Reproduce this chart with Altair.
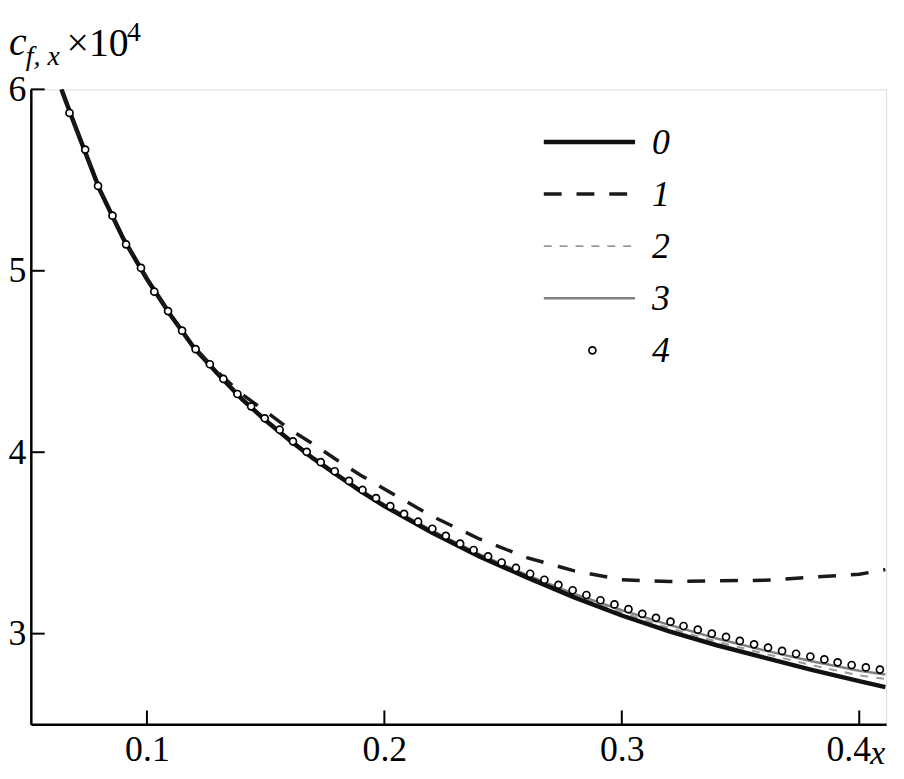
import altair as alt
import pandas as pd

# ---------------- data ----------------
x_curve = [0.064, 0.07, 0.08, 0.09, 0.10, 0.11, 0.12, 0.13, 0.14, 0.15, 0.16, 0.17, 0.18,
           0.19, 0.20, 0.22, 0.24, 0.26, 0.28, 0.30, 0.32, 0.34, 0.36, 0.38, 0.40, 0.411]
y_curve0 = [6.0, 5.79, 5.45, 5.178, 4.955, 4.755, 4.573, 4.43, 4.293, 4.175, 4.068, 3.966, 3.875,
            3.786, 3.703, 3.558, 3.426, 3.31, 3.200, 3.10, 3.012, 2.936, 2.868, 2.80, 2.738, 2.705]
y_curve1 = [6.0, 5.79, 5.451, 5.178, 4.956, 4.757, 4.577, 4.44, 4.32, 4.225, 4.128, 4.045, 3.957,
            3.873, 3.797, 3.648, 3.522, 3.419, 3.346, 3.297, 3.287, 3.291, 3.294, 3.311, 3.327, 3.353]
y_curve2 = [6.0, 5.79, 5.451, 5.178, 4.956, 4.757, 4.575, 4.432, 4.295, 4.178, 4.071, 3.969, 3.878,
            3.789, 3.708, 3.564, 3.432, 3.317, 3.210, 3.116, 3.031, 2.956, 2.890, 2.826, 2.770, 2.750]
y_curve3 = [6.0, 5.79, 5.452, 5.179, 4.957, 4.758, 4.577, 4.434, 4.297, 4.180, 4.073, 3.971, 3.881,
            3.792, 3.713, 3.569, 3.438, 3.324, 3.219, 3.129, 3.048, 2.973, 2.908, 2.848, 2.795, 2.775]

x_pts4 = [0.0674, 0.0740, 0.0794, 0.0855, 0.0912, 0.0975, 0.1031, 0.1089, 0.1148, 0.1205, 0.1265,
          0.1322, 0.1381, 0.1439, 0.1496, 0.1559, 0.1615, 0.1673, 0.1732, 0.1791, 0.1851, 0.1908,
          0.1965, 0.2025, 0.2083, 0.2142, 0.2202, 0.2259, 0.2319, 0.2376, 0.2437, 0.2494, 0.2554,
          0.2614, 0.2674, 0.2733, 0.2793, 0.2851, 0.2910, 0.2969, 0.3028, 0.3086, 0.3144, 0.3205,
          0.3260, 0.3320, 0.3379, 0.3439, 0.3497, 0.3557, 0.3616, 0.3675, 0.3734, 0.3794, 0.3853,
          0.3909, 0.3968, 0.4028, 0.4087]
y_pts4 = [5.870, 5.668, 5.468, 5.304, 5.146, 5.016, 4.885, 4.778, 4.670, 4.568, 4.485,
          4.404, 4.321, 4.253, 4.187, 4.124, 4.060, 4.002, 3.945, 3.895, 3.842, 3.792,
          3.747, 3.703, 3.660, 3.617, 3.578, 3.539, 3.496, 3.461, 3.426, 3.392, 3.362,
          3.330, 3.297, 3.269, 3.239, 3.213, 3.184, 3.161, 3.135, 3.109, 3.087, 3.066,
          3.042, 3.022, 3.000, 2.982, 2.960, 2.941, 2.923, 2.905, 2.889, 2.874, 2.858,
          2.842, 2.827, 2.814, 2.802]

x_ticks = [0.1, 0.2, 0.3, 0.4]
y_ticks = [3, 4, 5, 6]
legend_labels = ["0", "1", "2", "3", "4"]

# ---------------- styling ----------------
FONT = "Liberation Serif, Times New Roman, serif"
W, H = 862, 640
xs = alt.Scale(domain=[0.0511, 0.4113], nice=False, zero=False)
ys = alt.Scale(domain=[2.5, 6.0], nice=False, zero=False)

xaxis = alt.Axis(values=x_ticks, format=".1f", ticks=False, grid=False, domainColor="black",
                 domainWidth=2.5, labelFont=FONT, labelFontSize=36, labelColor="black",
                 labelPadding=8, labelFlush=False, title=None,
                 labelOffset={"condition": {"test": "datum.value > 0.35", "value": -11}, "value": 0})
yaxis = alt.Axis(values=y_ticks, format="d", ticks=False, grid=False, domainColor="black",
                 domainWidth=2.5, labelFont=FONT, labelFontSize=36, labelColor="black",
                 labelPadding=5, title=None)

one = pd.DataFrame({"k": [0]})


def line_layer(yvals, color, width, dash=None):
    df = pd.DataFrame({"x": x_curve, "y": yvals})
    kw = dict(color=color, strokeWidth=width, clip=True)
    if dash:
        kw["strokeDash"] = dash
    return alt.Chart(df).mark_line(**kw).encode(
        x=alt.X("x:Q", scale=xs, axis=xaxis),
        y=alt.Y("y:Q", scale=ys, axis=yaxis),
    )


styles = [
    dict(color="#111111", width=4.5, dash=None),
    dict(color="#1a1a1a", width=3.5, dash=[18, 15]),
    dict(color="#9a9a9a", width=2.0, dash=[8, 8]),
    dict(color="#808080", width=2.5, dash=None),
]
curves = [y_curve0, y_curve1, y_curve2, y_curve3]

layers = []
for idx in [3, 2, 0, 1]:
    st = styles[idx]
    layers.append(line_layer(curves[idx], st["color"], st["width"], st["dash"]))

pts = pd.DataFrame({"x": x_pts4, "y": y_pts4})
layers.append(
    alt.Chart(pts).mark_point(shape="circle", filled=True, fill="white", stroke="black",
                              strokeWidth=1.7, size=50, opacity=1).encode(
        x=alt.X("x:Q", scale=xs, axis=xaxis),
        y=alt.Y("y:Q", scale=ys, axis=yaxis),
    )
)

# inward ticks
layers.append(
    alt.Chart(pd.DataFrame({"x": x_ticks})).mark_rule(color="black", strokeWidth=2).encode(
        x=alt.X("x:Q", scale=xs, axis=xaxis), y=alt.value(H), y2=alt.value(H - 14)
    )
)
layers.append(
    alt.Chart(pd.DataFrame({"y": y_ticks})).mark_rule(color="black", strokeWidth=2).encode(
        y=alt.Y("y:Q", scale=ys, axis=yaxis), x=alt.value(0), x2=alt.value(14)
    )
)

# manual legend
row_y = [53, 105.5, 158, 210.5, 263]
for i, st in enumerate(styles):
    kw = dict(color=st["color"], strokeWidth=st["width"])
    if st["dash"]:
        kw["strokeDash"] = st["dash"]
    layers.append(
        alt.Chart(one).mark_rule(**kw).encode(
            x=alt.value(517), x2=alt.value(609), y=alt.value(row_y[i])
        )
    )
layers.append(
    alt.Chart(one).mark_point(shape="circle", filled=True, fill="white", stroke="black",
                              strokeWidth=1.7, size=50, opacity=1).encode(
        x=alt.value(566), y=alt.value(row_y[4])
    )
)
for i, lab in enumerate(legend_labels):
    layers.append(
        alt.Chart(one).mark_text(text=lab, font=FONT, fontSize=36, fontStyle="italic",
                                 align="left", baseline="middle", color="black").encode(
            x=alt.value(626), y=alt.value(row_y[i] + 1)
        )
    )


# axis titles
def txt(t, x, y, size, italic=False):
    kw = dict(text=t, font=FONT, fontSize=size, align="left", baseline="alphabetic", color="black")
    if italic:
        kw["fontStyle"] = "italic"
    return alt.Chart(one).mark_text(**kw).encode(x=alt.value(x), y=alt.value(y))


layers.append(txt("c", -22, -35, 40, italic=True))
layers.append(txt("f, x", -5, -25, 28, italic=True))
layers.append(txt("×10", 36, -34, 40))
layers.append(txt("4", 97, -49, 28))
layers.append(txt("x", 846, 680, 34, italic=True))

chart = alt.layer(*layers).properties(
    width=W, height=H,
    autosize=alt.AutoSizeParams(type="none"),
    padding={"left": 23, "top": 79, "right": 10, "bottom": 44},
).configure_view(stroke=None).configure(background="white")

chart.save("out.html", embed_options={"renderer": "svg", "actions": False})
